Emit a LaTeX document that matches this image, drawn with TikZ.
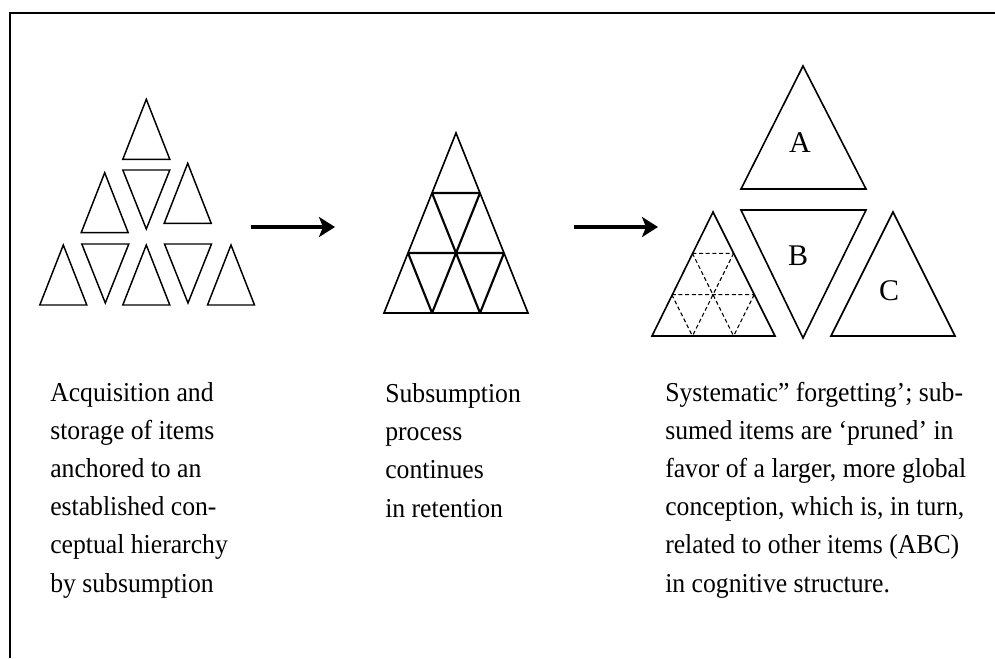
\documentclass[tikz,border=0pt]{standalone}
\usepackage{fontspec}
\setmainfont{Liberation Serif}
\newfontfamily\descfont{Liberation Serif}[FakeStretch=0.94]
\usetikzlibrary{arrows.meta, positioning}

\newcommand{\uptri}[2]{\draw[tri] (#1-23.5,#2+60) -- (#1,#2) -- (#1+23.5,#2+60) -- cycle;}
\newcommand{\downtri}[2]{\draw[tri] (#1-23.5,#2) -- (#1+23.5,#2) -- (#1,#2+59) -- cycle;}

\begin{document}
\begin{tikzpicture}[x=0.75pt, y=-0.75pt,
    tri/.style={line width=1.1pt},
    bigtri/.style={line width=1.2pt},
    inner/.style={line width=1.6pt},
    dsh/.style={line width=0.8pt, dash pattern=on 3pt off 2pt},
    flow/.style={line width=3pt, -{Stealth[length=12pt,width=15pt,inset=3pt]}},
    desc/.style={align=left, inner sep=0pt, font=\descfont\fontsize{20.5}{28.6}\selectfont},
    lbl/.style={inner sep=0pt, font=\fontsize{22.5}{26}\selectfont}]
    \useasboundingbox (0,0) rectangle (995,658);
    \draw[line width=1.5pt] (10,658) -- (10,13) -- (995,13);

    % items anchored to the hierarchy
    \uptri{146.3}{99.3}
    \uptri{104.7}{172.7}
    \downtri{146.3}{170}
    \uptri{187.7}{163.3}
    \foreach \x in {63.3,146.3,231} {\uptri{\x}{245}}
    \foreach \x in {105.3,188} {\downtri{\x}{244}}

    % subsumed
    \draw[bigtri] (456,133) -- (528,313) -- (384,313) -- cycle;
    \draw[inner] (432,193) -- (480,193) (408,253) -- (504,253)
        (432,193) -- (480,313) (480,193) -- (432,313)
        (408,253) -- (432,313) (504,253) -- (480,313);

    % pruned, and A B C
    \draw[bigtri] (713,212) -- (775,336) -- (652,336) -- cycle;
    \draw[dsh] (692.4,253.3) -- (733.6,253.3) (671.8,294.7) -- (754.2,294.7)
        (692.4,253.3) -- (733.6,336) (733.6,253.3) -- (692.4,336)
        (671.8,294.7) -- (692.4,336) (754.2,294.7) -- (733.6,336);
    \draw[bigtri] (803,66) -- (866,189) -- (741,189) -- cycle;
    \draw[bigtri] (741,210) -- (866,210) -- (803,338) -- cycle;
    \draw[bigtri] (893,212) -- (955,336) -- (831,336) -- cycle;
    \node[lbl] (labA) at (800,143) {A};
    \node[lbl] (labB) at (798,256) {B};
    \node[lbl] (labC) at (889,291) {C};

    \coordinate (from1) at (251,227);
    \coordinate (to1) at (335,227);
    \coordinate (from2) at (574,227);
    \coordinate (to2) at (658,227);
    \draw[flow] (from1) -- (to1);
    \draw[flow] (from2) -- (to2);

    % base anchor sits on the last line
    \node[desc, anchor=base west] (acq) at (50,592) {Acquisition and\\storage of items\\anchored to an\\established con-\\ceptual hierarchy\\by subsumption};
    \node[desc, anchor=base west] (retn) at (385,517) {Subsumption\\process\\continues\\in retention};
    \node[desc, anchor=base west] (forg) at (665,592) {Systematic” forgetting’; sub-\\sumed items are ‘pruned’ in\\favor of a larger, more global\\conception, which is, in turn,\\related to other items (ABC)\\in cognitive structure.};
\end{tikzpicture}
\end{document}
